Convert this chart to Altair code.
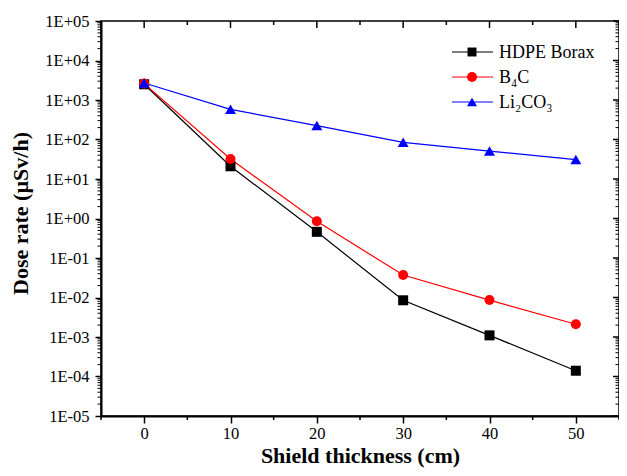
import altair as alt
import pandas as pd

# ---- data ----
thickness = [0, 10, 20, 30, 40, 50]
hdpe_borax = [2500, 21, 0.46, 0.0085, 0.0011, 0.00014]
b4c = [2600, 32, 0.85, 0.037, 0.0086, 0.0021]
li2co3 = [2700, 580, 225, 85, 51, 31]

series_names = ["HDPE Borax", "B₄C", "Li₂CO₃"]
series_colors = ["#000000", "#ff0000", "#0000ff"]
series_shapes = ["square", "circle", "triangle-up"]

y_major = [1e-5, 1e-4, 1e-3, 1e-2, 1e-1, 1e0, 1e1, 1e2, 1e3, 1e4, 1e5]
y_labels = ["1E-05", "1E-04", "1E-03", "1E-02", "1E-01", "1E+00",
            "1E+01", "1E+02", "1E+03", "1E+04", "1E+05"]
y_minor = [m * 10.0 ** k for k in range(-5, 5) for m in range(2, 10)]
x_major = [0, 10, 20, 30, 40, 50]
x_minor = [-5, 5, 15, 25, 35, 45, 55]

rows = []
for name, vals in zip(series_names, [hdpe_borax, b4c, li2co3]):
    for t, v in zip(thickness, vals):
        rows.append({"thickness": t, "dose": v, "series": name})
df = pd.DataFrame(rows)

W, H = 518, 395
FONT = "Liberation Serif"
x_scale = alt.Scale(domain=[-5, 55], nice=False, zero=False)
y_scale = alt.Scale(type="log", domain=[1e-5, 1e5], nice=False)
color_scale = alt.Scale(domain=series_names, range=series_colors)

label_expr = "%s[round(log(datum.value)/LN10)+5]" % str(y_labels)

common_axis = dict(labelFont=FONT, labelFontSize=16.5, labelColor="black",
                   titleFont=FONT, titleFontSize=22, titleFontWeight="bold",
                   titleColor="black", tickColor="black", domainColor="black",
                   tickWidth=1.5, domainWidth=2, grid=False)
x_axis = alt.Axis(values=x_major, tickSize=7, labelPadding=2, format="d",
                  title="Shield thickness (cm)", titleBaseline="alphabetic",
                  titleY=46.5, **common_axis)
y_axis = alt.Axis(values=y_major, tickSize=6, labelPadding=6, labelExpr=label_expr,
                  title="Dose rate (µSv/h)", titleBaseline="alphabetic",
                  titleX=-74, titleY=192, **common_axis)

base = alt.Chart(df)

lines = base.mark_line(strokeWidth=1.2).encode(
    x=alt.X("thickness:Q", scale=x_scale, axis=x_axis),
    y=alt.Y("dose:Q", scale=y_scale, axis=y_axis),
    color=alt.Color("series:N", scale=color_scale, legend=None),
    order=alt.Order("thickness:Q"),
)

sizes = [100, 100, 120]
point_layers = []
for name, shp, sz in zip(series_names, series_shapes, sizes):
    point_layers.append(
        base.transform_filter(alt.datum.series == name)
        .mark_point(filled=True, opacity=1, shape=shp, size=sz)
        .encode(
            x=alt.X("thickness:Q", scale=x_scale, axis=x_axis),
            y=alt.Y("dose:Q", scale=y_scale, axis=y_axis),
            color=alt.Color("series:N", scale=color_scale, legend=None),
        )
    )

# extra tick marks (minor ticks, mirrored inward ticks on top/right)
ymaj_df = pd.DataFrame({"v": y_major})
ymin_df = pd.DataFrame({"v": y_minor})
xmaj_df = pd.DataFrame({"v": x_major})
xmin_df = pd.DataFrame({"v": x_minor})


def yticks(d, x0, x1, sw):
    return alt.Chart(d).mark_rule(color="black", strokeWidth=sw).encode(
        y=alt.Y("v:Q", scale=y_scale, axis=y_axis), x=alt.value(x0), x2=alt.value(x1))


def xticks(d, y0, y1, sw):
    return alt.Chart(d).mark_rule(color="black", strokeWidth=sw).encode(
        x=alt.X("v:Q", scale=x_scale, axis=x_axis), y=alt.value(y0), y2=alt.value(y1))


tick_layers = [
    yticks(ymin_df, 0, -3.5, 1),        # left minor
    yticks(ymaj_df, W, W - 6, 1.5),     # right major
    yticks(ymin_df, W, W - 3.5, 1),     # right minor
    xticks(xmin_df, H, H + 4, 1.5),     # bottom minor
    xticks(xmaj_df, 0, 7, 1.5),         # top major
    xticks(xmin_df, 0, 4, 1.5),         # top minor
]

# legend (line + marker + label per series)
LX, LY0, LDY = 371, 31, 25
legend_layers = []
for i, (name, col, shp) in enumerate(zip(series_names, series_colors, series_shapes)):
    ldf = pd.DataFrame({"series": [name]})
    yy = LY0 + i * LDY
    legend_layers += [
        alt.Chart(ldf).mark_rule(color=col, strokeWidth=1.2).encode(
            x=alt.value(LX - 20), x2=alt.value(LX + 21), y=alt.value(yy)),
        alt.Chart(ldf).mark_point(filled=True, opacity=1, color=col, shape=shp,
                                  size=80 if i == 0 else 100).encode(
            x=alt.value(LX), y=alt.value(yy)),
        alt.Chart(ldf).mark_text(align="left", baseline="middle", font=FONT,
                                 fontSize=18, color="black").encode(
            text="series:N", x=alt.value(LX + 27), y=alt.value(yy + 1)),
    ]

chart = (
    alt.layer(lines, *point_layers, *tick_layers, *legend_layers)
    .properties(width=W, height=H, autosize=alt.AutoSizeParams(type="none"),
                padding={"left": 93, "top": 13, "right": 0, "bottom": 52},
                background="white")
    .configure_view(stroke="black", strokeWidth=1.5)
)

chart.save("out.html", embed_options={"renderer": "svg", "actions": False})
